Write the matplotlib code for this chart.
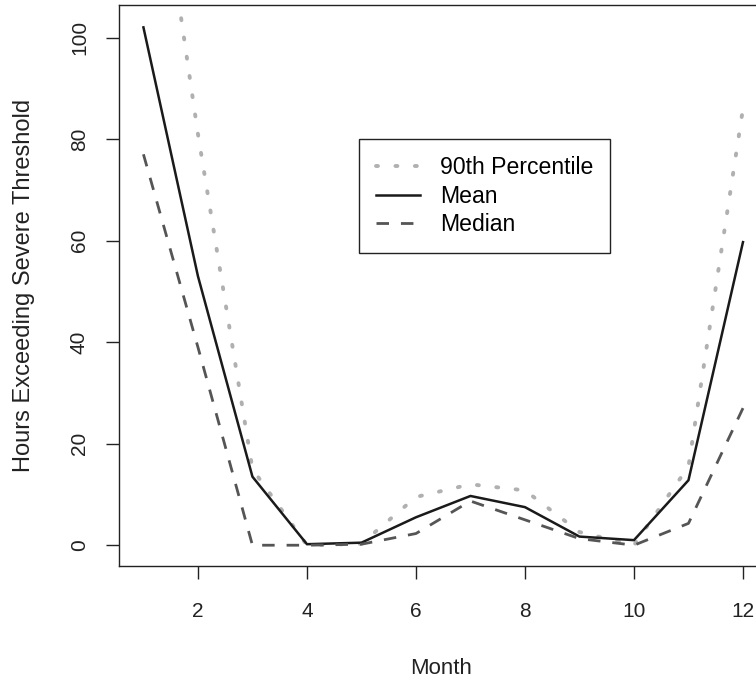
import numpy as np
import matplotlib
matplotlib.use("Agg")
import matplotlib.pyplot as plt

plt.rcParams["font.family"] = ["Liberation Sans", "DejaVu Sans"]

# monthly hours exceeding the severe threshold
months = [1, 2, 3, 4, 5, 6, 7, 8, 9, 10, 11, 12]
pct90 = [155, 81, 15, 0, 0.3, 9.5, 12, 10.8, 2.6, 0, 15.5, 86]
mean = [102, 53, 13.5, 0.2, 0.5, 5.5, 9.7, 7.5, 1.7, 1.0, 12.8, 59.7]
median = [77, 39, 0, 0, 0.2, 2.3, 8.7, 5, 1.3, 0, 4.3, 27]

xticks = [2, 4, 6, 8, 10, 12]
yticks = [0, 20, 40, 60, 80, 100]

fig = plt.figure(figsize=(7.56, 6.8), dpi=100)
ax = fig.add_axes([0.158, 0.1676, 0.8565, 0.825])

ax.plot(months, pct90, color="#b0b0b0", lw=2.8, linestyle=(0, (0.5, 4.5)),
        dash_capstyle="round", label="90th Percentile")
ax.plot(months, mean, color="#1a1a1a", lw=1.8, label="Mean")
ax.plot(months, median, color="#555555", lw=2, linestyle=(0, (4.5, 4.3)),
        label="Median")

# R style ranges: 4% padding around the mean series
ax.set_xlim(1 - 0.44, 12 + 0.44)
ax.set_ylim(-4.1, 106.4)
ax.set_xticks(xticks)
ax.set_yticks(yticks)
ax.tick_params(axis="both", direction="out", length=9.7, width=1, labelsize=15,
               colors="#222222")
ax.tick_params(axis="x", pad=16)
ax.tick_params(axis="y", labelrotation=90, pad=12.3)
for lab in ax.get_yticklabels():
    lab.set_va("center")
for sp in ax.spines.values():
    sp.set_color("#222222")
    sp.set_linewidth(1)

ax.set_xlabel("Month", fontsize=16, color="#222222", va="center")
ax.xaxis.set_label_coords(0.497, -0.182)
ax.set_ylabel("Hours Exceeding Severe Threshold", fontsize=17, color="#222222",
              va="center")
ax.yaxis.set_label_coords(-0.147, 0.5)

leg = ax.legend(loc="upper left", bbox_to_anchor=(0.370, 0.761), fontsize=16.6,
                frameon=True, fancybox=False, framealpha=1, edgecolor="#222222",
                handlelength=1.9, handletextpad=0.85, borderpad=0.75,
                labelspacing=0.23, borderaxespad=0)
leg.get_frame().set_linewidth(1)

fig.savefig("out.png", dpi=100)
